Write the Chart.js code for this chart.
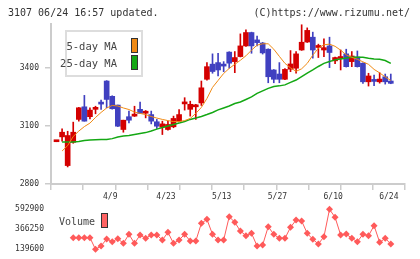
<!DOCTYPE html>
<html><head><meta charset="utf-8">
<script src="https://cdn.jsdelivr.net/npm/chart.js@4"></script>
<style>
html,body{margin:0;padding:0;background:#fff;}
#wrap{position:relative;width:420px;height:259px;overflow:hidden;font-family:"DejaVu Sans Mono",monospace;color:#333;}
canvas{position:absolute;left:0;}
.t{position:absolute;white-space:pre;line-height:12px;}
.sw{position:absolute;box-sizing:border-box;border:1px solid #333;}
</style></head><body>
<div id="wrap">
<canvas id="main" width="420" height="205" style="top:0"></canvas>
<canvas id="vol" width="420" height="61" style="top:199px"></canvas>
<div class="t" style="left:8px;top:7px;font-size:10px;">3107 06/24 16:57 updated.</div>
<div class="t" style="right:10px;top:7px;font-size:10px;">(C)https://www.rizumu.net/</div>
<div style="position:absolute;left:65px;top:30px;width:78px;height:47px;box-sizing:border-box;border:2px solid #ddd;background:#fff;"></div>
<div class="t" style="left:57px;width:60px;text-align:right;top:40px;font-size:10.5px;color:#444;">5-day MA</div>
<div class="t" style="left:57px;width:60px;text-align:right;top:57px;font-size:10.5px;color:#444;">25-day MA</div>
<div class="sw" style="left:131px;top:38px;width:7px;height:15px;background:#f08a14;"></div>
<div class="sw" style="left:131px;top:55px;width:7px;height:15px;background:#14a814;"></div>
<div class="t" style="left:59px;top:216px;font-size:10px;color:#444;">Volume</div>
<div class="sw" style="left:101px;top:213px;width:7px;height:15px;background:#ff6464;"></div>
</div>
<script>
const tickLabels = ['4/9','4/23','5/13','5/27','6/10','6/24'];
const tickIdx = [10,20,30,40,50,60];
const priceTicks = [2800,3100,3400];
const volTicks = [139600,366250,592900];

const opens = [3018,3043,2895,3015,3133,3198,3147,3185,3216,3331,
  3252,3207,3081,3147,3150,3185,3165,3158,3121,3093,
  3081,3095,3124,3213,3185,3198,3218,3340,3418,3426,
  3412,3480,3431,3457,3512,3581,3543,3527,3495,3388,
  3367,3340,3392,3397,3491,3532,3557,3504,3491,3512,
  3435,3447,3471,3431,3455,3423,3327,3333,3327,3353,
  3331];
const highs = [3020,3085,3072,3119,3195,3257,3193,3201,3233,3333,
  3255,3207,3129,3176,3201,3222,3179,3176,3133,3124,
  3124,3150,3184,3245,3227,3211,3331,3426,3471,3474,
  3431,3482,3483,3574,3595,3583,3563,3530,3497,3390,
  3426,3395,3488,3483,3621,3605,3583,3521,3548,3557,
  3455,3491,3495,3483,3486,3425,3371,3362,3374,3367,
  3367];
const lows = [3018,3021,2888,3010,3124,3124,3136,3162,3185,3193,
  3186,3096,3067,3115,3148,3162,3141,3110,3086,3055,
  3078,3090,3120,3181,3150,3133,3205,3335,3371,3357,
  3379,3397,3374,3455,3510,3474,3512,3470,3322,3322,
  3322,3338,3379,3371,3489,3530,3449,3452,3457,3400,
  3420,3388,3403,3405,3403,3319,3305,3307,3320,3315,
  3317];
const closes = [3020,3067,3050,3067,3193,3124,3181,3190,3212,3236,
  3188,3098,3129,3129,3158,3164,3168,3124,3098,3110,
  3107,3138,3158,3215,3211,3205,3296,3405,3380,3388,
  3408,3423,3452,3512,3581,3512,3529,3476,3353,3340,
  3340,3391,3419,3471,3531,3592,3491,3514,3503,3478,
  3452,3450,3405,3460,3405,3327,3357,3329,3341,3327,
  3319];
const ma5 = [null,2970,2998,3045,3073,3096,3114,3143,3169,3192,
  3205,3202,3192,3184,3171,3164,3158,3148,3140,3133,
  3127,3122,3122,3127,3138,3164,3195,3241,3298,3334,
  3370,3396,3417,3438,3461,3490,3516,3523,3523,3495,
  3458,3422,3399,3381,3394,3422,3464,3500,3518,3521,
  3510,3490,3466,3453,3443,3430,3417,3391,3373,3352,
  3334];
const ma25 = [null,3017,3017,3017,3019,3024,3027,3028,3029,3029,
  3034,3042,3047,3050,3055,3060,3065,3073,3083,3091,
  3099,3107,3114,3122,3133,3140,3148,3158,3169,3182,
  3192,3202,3215,3223,3236,3249,3267,3280,3293,3303,
  3306,3311,3324,3336,3354,3372,3388,3406,3422,3432,
  3440,3445,3450,3453,3454,3453,3448,3445,3443,3437,
  3422];
const volume = [null,null,null,268000,268000,268000,268000,135900,173600,252900,
  222700,256700,203800,305900,203800,298300,260500,298300,298300,241600,
  328500,203800,241600,305900,230300,230300,430500,475800,305900,241600,
  241600,506000,441800,343600,290700,317200,173600,185000,392700,305900,
  260500,260500,385100,468200,456900,317200,249200,196300,279300,589100,
  498500,298300,309600,260500,222700,305900,290700,404000,215200,260500,
  196300];

const UP = '#d40000', DOWN = '#4040c0';
const FONT = '"DejaVu Sans Mono", monospace';
const xMin = -0.99, xMax = 62.55;
const idx = closes.map((_, i) => i);
const colors = idx.map(i => closes[i] >= opens[i] ? UP : DOWN);

new Chart(document.getElementById('main'), {
  type: 'bar',
  data: { datasets: [
    { type: 'line', xAxisID: 'x', data: ma5.map((v, i) => ({x: i, y: v})), borderColor: '#f08a14', borderWidth: 1, pointRadius: 0, order: 0 },
    { type: 'line', xAxisID: 'x', data: ma25.map((v, i) => ({x: i, y: v})), borderColor: '#14a814', borderWidth: 1.5, pointRadius: 0, order: 0 },
    { type: 'bar', xAxisID: 'x', data: idx.map(i => ({x: i, y: [opens[i], closes[i]]})), backgroundColor: colors, barThickness: 5, minBarLength: 2, grouped: false, order: 1 },
    { type: 'bar', xAxisID: 'x', data: idx.map(i => ({x: i, y: [lows[i], highs[i]]})), backgroundColor: colors, barThickness: 1, grouped: false, order: 2 }
  ]},
  options: {
    responsive: false, animation: false, devicePixelRatio: 1,
    layout: { autoPadding: false, padding: { top: 24, right: 15, left: 0, bottom: 0 } },
    plugins: { legend: { display: false }, tooltip: { enabled: false } },
    scales: {
      x: { type: 'linear', min: xMin, max: xMax, offset: false, position: 'bottom', weight: 0,
        afterBuildTicks: s => { const t = []; for (let k = 0; k <= 11; k++) t.push({ value: xMin + k * (xMax - xMin) / 11 }); s.ticks = t; },
        ticks: { callback: () => '', autoSkip: false, maxRotation: 0 },
        grid: { drawOnChartArea: false, offset: false, tickLength: 6, color: '#cccccc', lineWidth: 1.5 },
        border: { color: '#cccccc', width: 2 },
        afterFit: s => { s.height = 6; } },
      x2: { type: 'linear', min: xMin, max: xMax, offset: false, position: 'bottom', weight: 1,
        afterBuildTicks: s => { s.ticks = tickIdx.map(v => ({ value: v - 0.35 })); },
        ticks: { autoSkip: false, maxRotation: 0, padding: 2, color: '#333', font: { family: FONT, size: 8 },
          callback: (v, i) => tickLabels[i] },
        grid: { display: false, drawTicks: false, offset: false }, border: { display: false },
        afterFit: s => { s.height = 15; } },
      y: { min: 2800, max: 3625,
        afterBuildTicks: s => { s.ticks = priceTicks.map(v => ({ value: v })); },
        ticks: { color: '#333', padding: 6, font: { family: FONT, size: 8 }, callback: v => String(v) },
        grid: { drawOnChartArea: false, tickLength: 6, color: '#cccccc', lineWidth: 1.5 },
        border: { color: '#cccccc', width: 2 },
        afterFit: s => { s.width = 51; } }
    }
  }
});

new Chart(document.getElementById('vol'), {
  type: 'line',
  data: { datasets: [{ data: volume.map((v, i) => ({x: i, y: v})), borderColor: '#ff5a5a', backgroundColor: '#ff5a5a', borderWidth: 1,
    pointStyle: 'rectRot', pointRadius: 3.5, pointBorderWidth: 0, pointBackgroundColor: '#ff5a5a', clip: false }] },
  options: {
    responsive: false, animation: false, devicePixelRatio: 1,
    layout: { autoPadding: false, padding: { top: 6, right: 15, bottom: 7, left: 0 } },
    plugins: { legend: { display: false }, tooltip: { enabled: false } },
    scales: {
      x: { type: 'linear', min: xMin, max: xMax, display: false },
      y: { min: 94270, max: 638230,
        afterBuildTicks: s => { s.ticks = volTicks.map(v => ({ value: v })); },
        ticks: { color: '#333', padding: 0, font: { family: FONT, size: 8 }, callback: v => String(v) },
        grid: { display: false, drawTicks: true, tickLength: 7 }, border: { display: false },
        afterFit: s => { s.width = 51; } }
    }
  }
});
</script>
</body></html>
